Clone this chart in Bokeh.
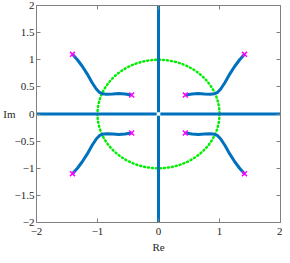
from bokeh.plotting import figure
from bokeh.models import LinearAxis, FixedTicker, Range1d, CustomJSTickFormatter
from bokeh.embed import file_html
from bokeh.resources import INLINE
import numpy as np

# upper-left locus branch; others by symmetry
branch_re = [-1.41, -1.33, -1.25, -1.17, -1.09, -1.02, -0.97, -0.92, -0.85, -0.75, -0.65, -0.55, -0.44]
branch_im = [1.10, 1.00, 0.88, 0.74, 0.58, 0.46, 0.40, 0.375, 0.365, 0.37, 0.38, 0.37, 0.35]
poles_re = [-1.41, -0.44, 0.44, 1.41, -1.41, -0.44, 0.44, 1.41]
poles_im = [1.10, 0.35, 0.35, 1.10, -1.10, -0.35, -0.35, -1.10]
real_axis_segments = [([-2.0, -0.03], [0, 0]), ([0.03, 2.0], [0, 0]),
                      ([0, 0], [-2.0, -0.03]), ([0, 0], [0.03, 2.0])]
x_ticks = [-2, -1, 0, 1, 2]
y_ticks = [-2, -1.5, -1, -0.5, 0, 0.5, 1, 1.5, 2]

blue = "#0072BD"
font = "Liberation Serif"

p = figure(width=282, height=255, output_backend="svg", toolbar_location=None,
           x_range=Range1d(-2, 2), y_range=Range1d(-2, 2),
           min_border_left=0, min_border_right=2, min_border_top=5, min_border_bottom=0)
p.grid.visible = False
p.outline_line_color = None

for ax in [p.xaxis[0], p.yaxis[0]]:
    ax.major_tick_in = 4
    ax.major_tick_out = 0
    ax.minor_tick_line_color = None
    ax.axis_line_color = "#808080"
    ax.major_tick_line_color = "#808080"
    ax.major_label_text_font = font
    ax.major_label_text_font_size = "11px"
    ax.major_label_text_color = "#262626"
    ax.axis_label_text_font = font
    ax.axis_label_text_font_size = "11px"
    ax.axis_label_text_font_style = "normal"
    ax.axis_label_text_color = "#262626"
p.xaxis.ticker = FixedTicker(ticks=x_ticks)
p.yaxis.ticker = FixedTicker(ticks=y_ticks)
p.xaxis.axis_label = "Re"
p.yaxis.axis_label = "Im"
p.yaxis.axis_label_orientation = "horizontal"
p.xaxis.major_label_standoff = 5
p.yaxis.major_label_standoff = 2
p.yaxis.axis_label_standoff = -4
p.xaxis.axis_label_standoff = 3

blank = CustomJSTickFormatter(code="return ''")
for loc in ["right", "above"]:
    ax = LinearAxis(ticker=FixedTicker(ticks=y_ticks if loc == "right" else x_ticks),
                    formatter=blank, major_label_standoff=0,
                    major_tick_in=4, major_tick_out=0,
                    minor_tick_line_color=None, axis_line_color="#808080",
                    major_tick_line_color="#808080")
    p.add_layout(ax, loc)

# unit circle
p.ellipse(x=[0], y=[0], width=[2], height=[2], fill_alpha=0,
          line_color="#00EE00", line_width=2.5, line_dash="1 3", line_cap="round")

for xs, ys in real_axis_segments:
    p.line(xs, ys, line_color=blue, line_width=3)

br = np.array(branch_re)
bi = np.array(branch_im)
for sx, sy in [(1, 1), (-1, 1), (1, -1), (-1, -1)]:
    p.line(sx * br, sy * bi, line_color=blue, line_width=3)

p.scatter(poles_re, poles_im, marker="x", size=7, line_color="#FF00FF", line_width=1.5)

open("out.html", "w").write(file_html(p, INLINE))
